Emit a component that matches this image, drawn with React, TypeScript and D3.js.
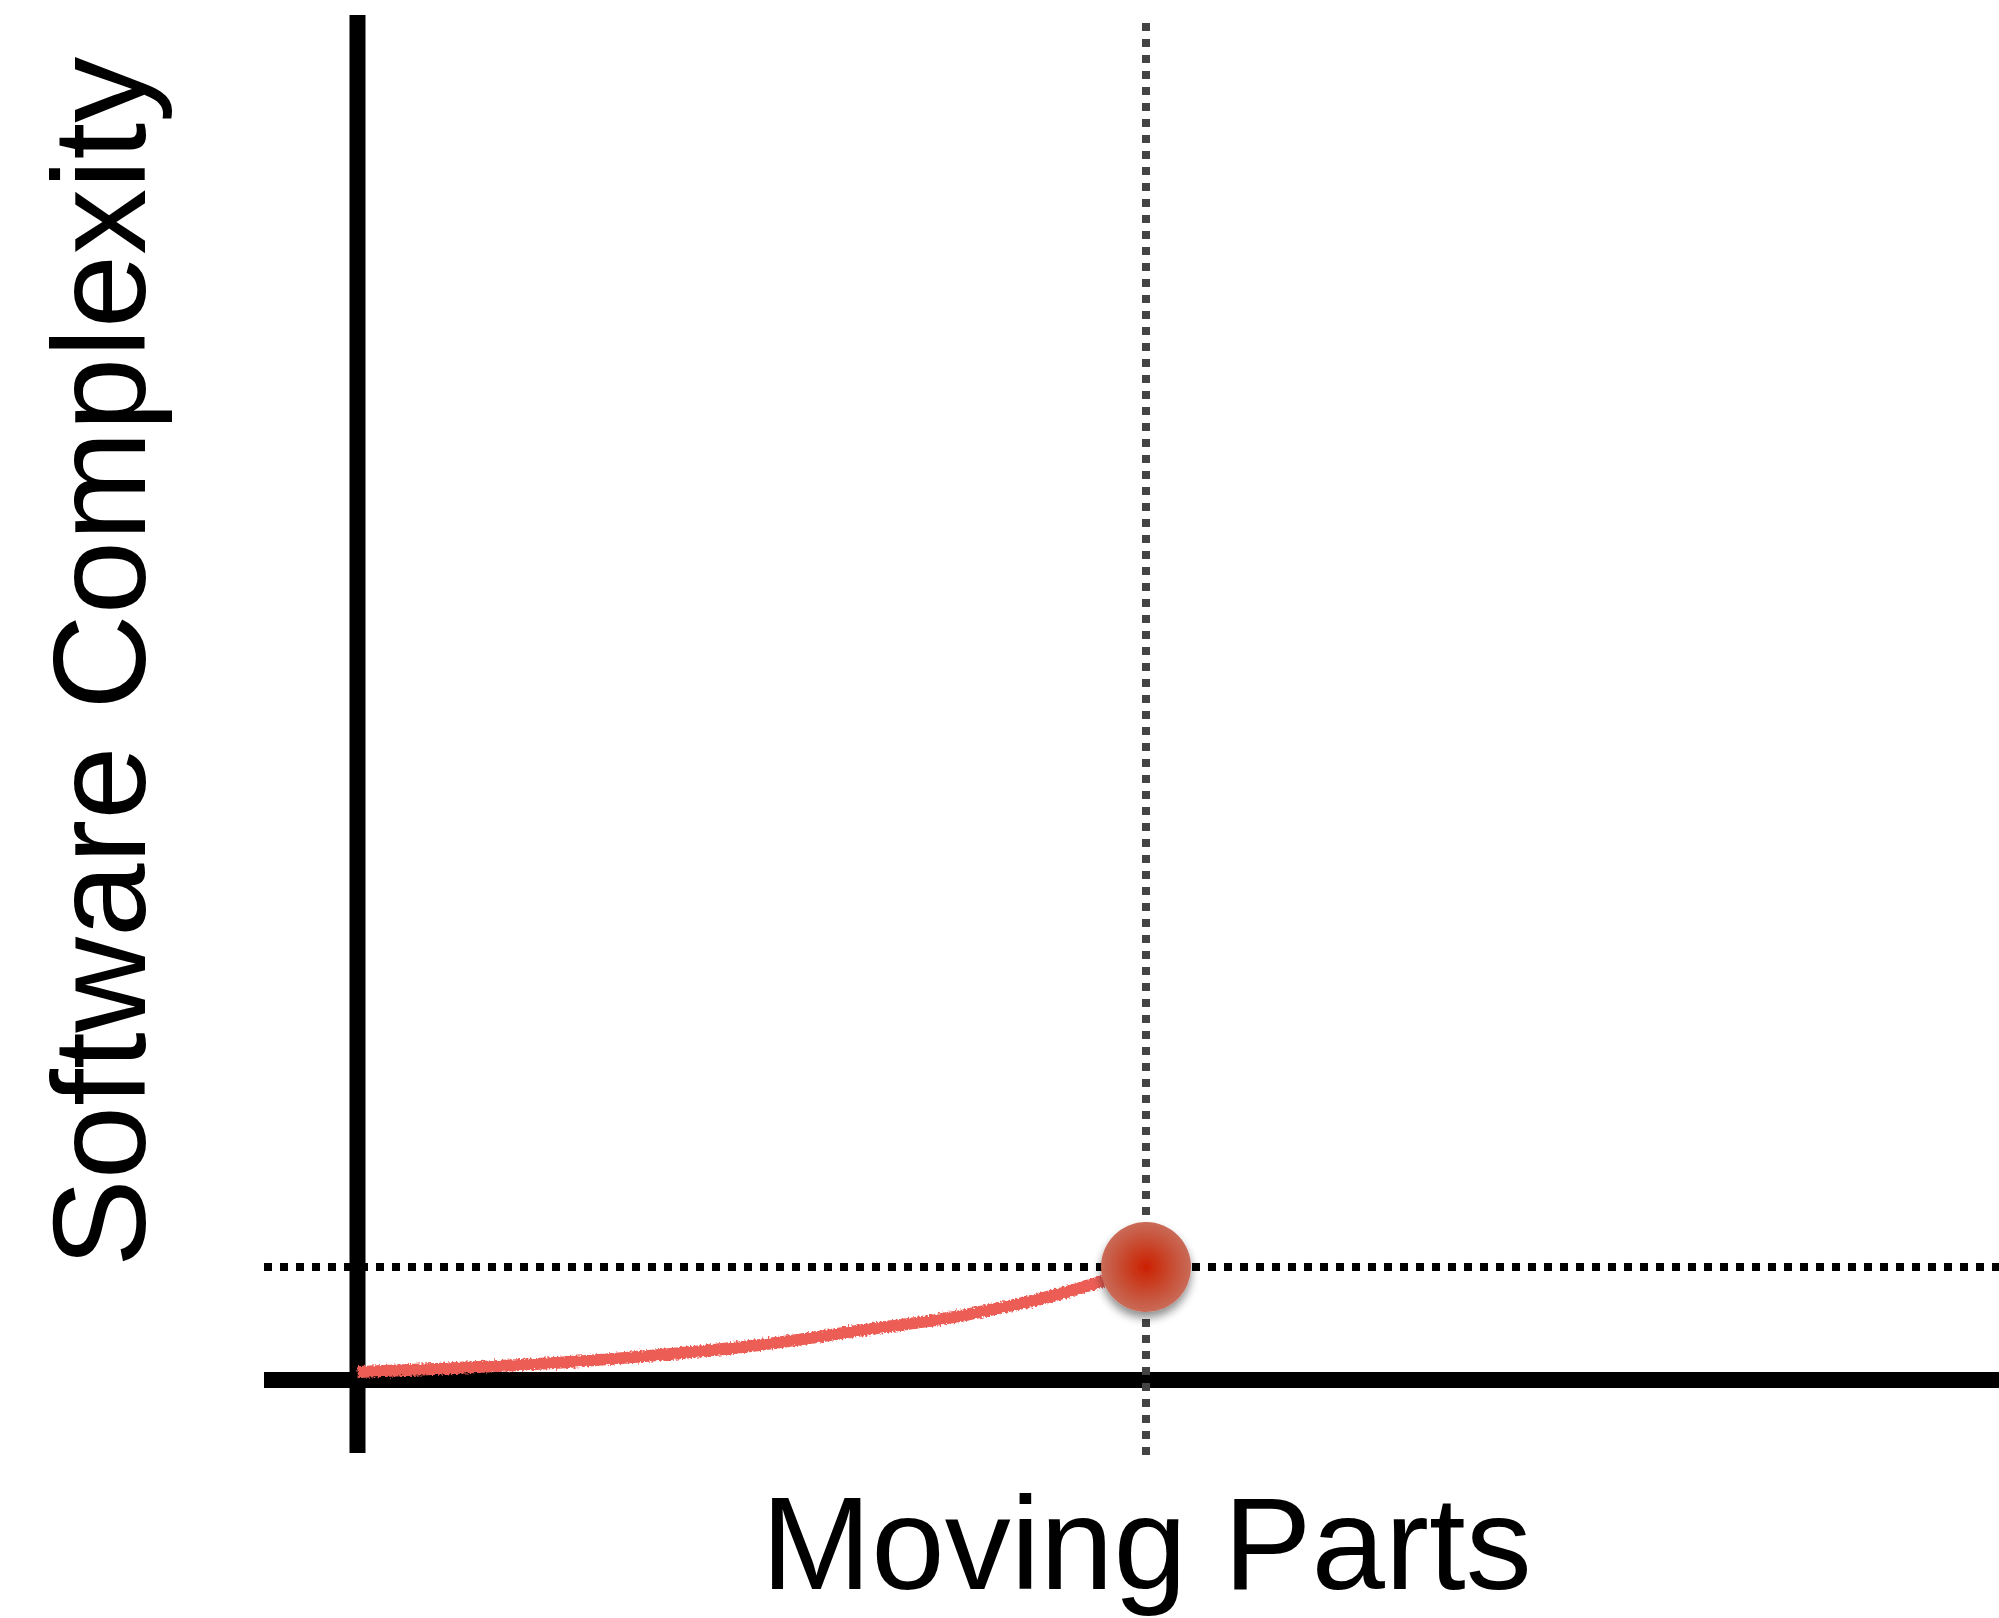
import React from "react";
import * as d3 from "d3";

// curve of complexity vs. moving parts
const partsX = [0, 1.2, 2.5, 3.8, 5.1, 6.4, 7.7, 9, 10];
const complexityY = [0.7, 1.05, 1.5, 2.2, 3.1, 4.4, 5.75, 7.8, 10];
const marker = { x: 10, y: 10 };
const xLabel = "Moving Parts";
const yLabel = "Software Complexity";

const W = 1999;
const H = 1618;

const App = () => {
  const x = d3.scaleLinear().domain([0, 10]).range([357.5, 1146]);
  const y = d3.scaleLinear().domain([0, 10]).range([1380, 1267]);

  const points: [number, number][] = partsX.map((d, i) => [d, complexityY[i]]);
  const line = d3
    .line<[number, number]>()
    .x((d) => x(d[0]))
    .y((d) => y(d[1]))
    .curve(d3.curveMonotoneX);

  const left = x.invert(264);
  const right = x.invert(W);
  const top = y.invert(15);
  const bottom = y.invert(1453);

  return (
    <svg
      width={W}
      height={H}
      style={{ position: "absolute", left: 0, top: 0, background: "#fff" }}
    >
      <defs>
        <radialGradient id="ball" cx="50%" cy="50%" r="50%">
          <stop offset="0%" stopColor="#cc2000" />
          <stop offset="55%" stopColor="#c84a30" />
          <stop offset="100%" stopColor="#c96b58" />
        </radialGradient>
        <filter id="shadow" x="-50%" y="-50%" width="200%" height="200%">
          <feGaussianBlur in="SourceAlpha" stdDeviation="5" />
          <feOffset dx="0" dy="6" result="b" />
          <feComponentTransfer>
            <feFuncA type="linear" slope="0.45" />
          </feComponentTransfer>
          <feMerge>
            <feMergeNode />
            <feMergeNode in="SourceGraphic" />
          </feMerge>
        </filter>
        <filter id="rough" x="-5%" y="-50%" width="110%" height="200%">
          <feTurbulence type="fractalNoise" baseFrequency="0.5" numOctaves="2" seed="3" />
          <feDisplacementMap in="SourceGraphic" scale="6" xChannelSelector="R" yChannelSelector="G" />
        </filter>
      </defs>

      {/* axes */}
      <line x1={x(0)} x2={x(0)} y1={y(top)} y2={y(bottom)} stroke="#000" strokeWidth={16} />
      <line x1={x(left)} x2={x(right)} y1={y(0)} y2={y(0)} stroke="#000" strokeWidth={16} />

      {/* guides through the marker */}
      <line
        x1={x(left)}
        x2={x(right)}
        y1={y(marker.y)}
        y2={y(marker.y)}
        stroke="#000"
        strokeWidth={8}
        strokeDasharray="8 8"
      />
      <line
        x1={x(marker.x)}
        x2={x(marker.x)}
        y1={23}
        y2={1457}
        stroke="#444"
        strokeWidth={8}
        strokeDasharray="8 8"
      />

      <path
        d={line(points) || ""}
        fill="none"
        stroke="#ec5d56"
        strokeWidth={12}
        strokeLinecap="butt"
        filter="url(#rough)"
      />

      <circle cx={x(marker.x)} cy={y(marker.y)} r={45} fill="url(#ball)" filter="url(#shadow)" />

      <text
        x={1146.5}
        y={1589}
        textAnchor="middle"
        fontFamily="'Liberation Sans', Arial, sans-serif"
        fontSize={132}
        fill="#000"
      >
        {xLabel}
      </text>
      <text
        transform={`translate(145, 662) rotate(-90)`}
        textAnchor="middle"
        fontFamily="'Liberation Sans', Arial, sans-serif"
        fontSize={132}
        fill="#000"
      >
        {yLabel}
      </text>
    </svg>
  );
};

export default App;
